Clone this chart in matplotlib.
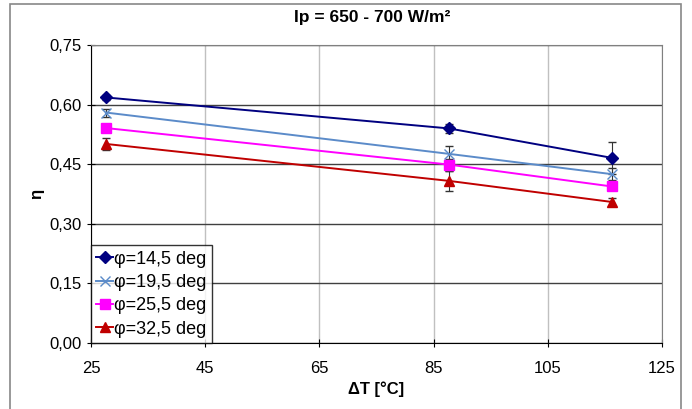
import matplotlib.pyplot as plt
from matplotlib.patches import Rectangle
from matplotlib.lines import Line2D

plt.rcParams['font.family'] = ['Liberation Sans', 'DejaVu Sans']

dT = [27.6, 87.7, 116.2]
labels = ["φ=14,5 deg", "φ=19,5 deg", "φ=25,5 deg", "φ=32,5 deg"]
eta = [
    [0.618, 0.540, 0.466],
    [0.580, 0.476, 0.425],
    [0.541, 0.449, 0.394],
    [0.501, 0.408, 0.355],
]
err = [
    [0.006, 0.012, 0.040],
    [0.010, 0.020, 0.015],
    [0.005, 0.015, 0.008],
    [0.016, 0.025, 0.010],
]
colors = ["#000080", "#5B8BC9", "#FF00FF", "#C00000"]
markers = ["D", "x", "s", "^"]
msizes = [6, 7, 7, 7]

fig = plt.figure(figsize=(6.92, 4.09), dpi=100)
ax = fig.add_axes([0.1315, 0.1614, 0.825, 0.7286])
fig.patches.append(Rectangle((0.0145, -0.01), 0.97, 1.0, transform=fig.transFigure,
                             fill=False, edgecolor="#888888", linewidth=1.2))

handles = []
for i in range(4):
    ax.errorbar(dT, eta[i], yerr=err[i], color=colors[i], marker=markers[i],
                markersize=msizes[i], linewidth=1.4, ecolor="#333333", elinewidth=0.8,
                capsize=3, zorder=3)
    handles.append(Line2D([], [], color=colors[i], marker=markers[i],
                          markersize=msizes[i], linewidth=1.4, label=labels[i]))

ax.set_xlim(25, 125)
ax.set_ylim(0, 0.75)
ax.set_xticks([25, 45, 65, 85, 105, 125])
ax.set_yticks([0, 0.15, 0.30, 0.45, 0.60, 0.75])
ax.set_yticklabels(["0,00", "0,15", "0,30", "0,45", "0,60", "0,75"])
ax.xaxis.grid(True, color="#C0C0C0", linewidth=1)
ax.yaxis.grid(True, color="#404040", linewidth=1)
ax.set_axisbelow(True)
for s in ax.spines.values():
    s.set_color("#808080")
ax.spines["left"].set_color("black")
ax.spines["bottom"].set_color("black")
ax.tick_params(direction="inout", length=6, labelsize=12)
ax.tick_params(axis="x", pad=10)

ax.set_xlabel("ΔT [°C]", fontsize=12, fontweight="bold")
ax.set_ylabel("η", fontsize=12, fontweight="bold")
fig.text(0.538, 0.956, "Ip = 650 - 700 W/m²", fontsize=12.5, fontweight="bold",
         ha="center", va="center")

leg = ax.legend(handles=handles, loc="lower left", fontsize=13, frameon=True,
                fancybox=False, borderaxespad=0, handlelength=0.9, handletextpad=0.1,
                labelspacing=0.35, borderpad=0.3)
leg.get_frame().set_edgecolor("black")
leg.get_frame().set_linewidth(1)

fig.savefig("out.png", dpi=100)
